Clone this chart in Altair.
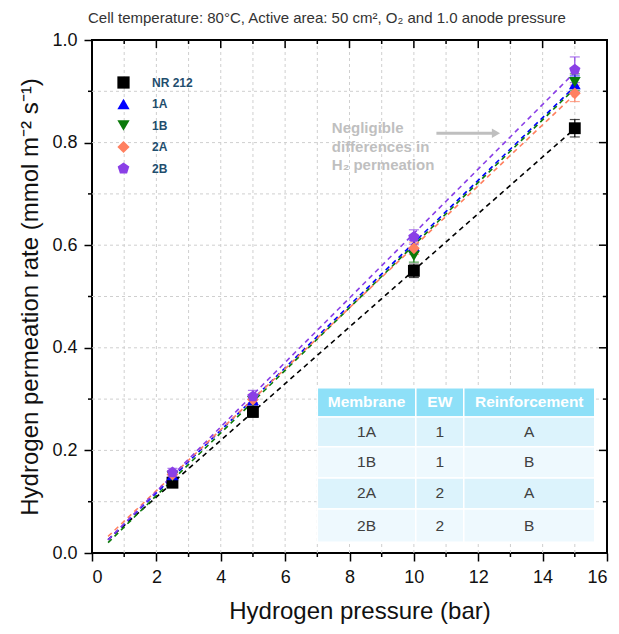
import altair as alt
import pandas as pd

# ---------------- data ----------------
series = ["NR 212", "1A", "1B", "2A", "2B"]
pressure = [2.5, 5, 10, 15]
rate_nr212 = [0.137, 0.275, 0.550, 0.828]
rate_1a = [0.152, 0.298, 0.598, 0.914]
rate_1b = [0.150, 0.296, 0.579, 0.918]
rate_2a = [0.153, 0.299, 0.594, 0.896]
rate_2b = [0.157, 0.305, 0.616, 0.942]
err_nr212 = [0.008, 0.010, 0.013, 0.017]
err_1a = [0.007, 0.010, 0.012, 0.016]
err_1b = [0.007, 0.010, 0.012, 0.016]
err_2a = [0.007, 0.010, 0.012, 0.016]
err_2b = [0.008, 0.012, 0.014, 0.025]

colors = ["#000000", "#0000FF", "#0A7A0A", "#FF8060", "#8A3FE6"]
pentagon = "M0,-1L0.951,-0.309L0.588,0.809L-0.588,0.809L-0.951,-0.309Z"
shapes = ["square", "triangle-up", "triangle-down", "diamond", pentagon]

fit_extent = [0.5, 15]

x_labels = [0, 2, 4, 6, 8, 10, 12, 14, 16]
y_labels = [0, 0.2, 0.4, 0.6, 0.8, 1.0]
x_minor = [1, 3, 5, 7, 9, 11, 13, 15]
x_major_inner = [2, 4, 6, 8, 10, 12, 14]
y_minor = [0.1, 0.3, 0.5, 0.7, 0.9]
y_major_inner = [0.2, 0.4, 0.6, 0.8]

table_header = ["Membrane", "EW", "Reinforcement"]
table_membrane = ["1A", "1B", "2A", "2B"]
table_ew = ["1", "1", "2", "2"]
table_reinf = ["A", "B", "A", "B"]

title_text = "Cell temperature: 80\u00b0C, Active area: 50 cm\u00b2, O\u2082 and 1.0 anode pressure"
x_title = "Hydrogen pressure (bar)"
y_title = "Hydrogen permeation rate (mmol m\u207b\u00b2 s\u207b\u00b9)"
note_lines = ["Negligible", "differences in", "H\u2082 permeation"]

# ---------------- layout ----------------
W, H = 515, 513
FONT = "Liberation Sans"
col_edges = [7.0, 10.06, 11.55, 15.62]
row_edges = [0.322, 0.265, 0.207, 0.146, 0.086, 0.021]
row_fills = ["#8EE0F8", "#DCF3FC", "#EEF9FE", "#DCF3FC", "#EEF9FE"]
note_x, note_y = 7.45, 0.828
arrow_x0, arrow_x1, arrow_y = 10.7, 12.75, 0.818

rates = [rate_nr212, rate_1a, rate_1b, rate_2a, rate_2b]
errs = [err_nr212, err_1a, err_1b, err_2a, err_2b]
rows = []
for s, r, e in zip(series, rates, errs):
    for p, v, d in zip(pressure, r, e):
        rows.append({"series": s, "pressure": p, "rate": v, "lo": v - d, "hi": v + d})
df = pd.DataFrame(rows)

xs = alt.Scale(domain=[0, 16], nice=False, zero=False)
ys = alt.Scale(domain=[0, 1], nice=False, zero=False)
col_scale = alt.Scale(domain=series, range=colors)
shape_scale = alt.Scale(domain=series, range=shapes)

XAX = alt.Axis(values=x_labels, format="d", grid=False, domain=False, tickSize=8, tickWidth=1.5,
               tickColor="black", labelFontSize=18, labelFont=FONT, labelColor="#111",
               labelPadding=7, titleFontSize=24, titleFont=FONT, titleFontWeight="normal",
               titleColor="#111", titlePadding=13, titleX=W / 2 + 10)
YAX = alt.Axis(values=y_labels, format=".1f", grid=False, domain=False, tickSize=8, tickWidth=1.5,
               tickColor="black", labelFontSize=18, labelFont=FONT, labelColor="#111",
               labelPadding=7, titleFontSize=24, titleFont=FONT, titleFontWeight="normal",
               titleColor="#111", titlePadding=9)
LEG = alt.Legend(orient="none", legendX=25, legendY=36, title=None)


def X(field):
    return alt.X(field, scale=xs, axis=XAX, title=x_title)


def Y(field):
    return alt.Y(field, scale=ys, axis=YAX, title=y_title)


def C():
    return alt.Color("series:N", scale=col_scale, legend=LEG, title=None)


# grid
grid_x = alt.Chart(pd.DataFrame({"v": x_minor + x_major_inner})).mark_rule(
    color="#CFCFCF", strokeDash=[3, 3], strokeWidth=1
).encode(x=X("v:Q"), y=alt.value(0), y2=alt.value(H))
grid_y = alt.Chart(pd.DataFrame({"v": y_minor + y_major_inner})).mark_rule(
    color="#CFCFCF", strokeDash=[3, 3], strokeWidth=1
).encode(y=Y("v:Q"), x=alt.value(0), x2=alt.value(W))


# minor / inward ticks
def ticks_y(vals, xa, xb):
    return alt.Chart(pd.DataFrame({"v": vals})).mark_rule(color="black", strokeWidth=1.5).encode(
        y=Y("v:Q"), x=alt.value(xa), x2=alt.value(xb))


def ticks_x(vals, ya, yb):
    return alt.Chart(pd.DataFrame({"v": vals})).mark_rule(color="black", strokeWidth=1.5).encode(
        x=X("v:Q"), y=alt.value(ya), y2=alt.value(yb))


tick_layers = [
    ticks_y(y_minor, -4, 0),
    ticks_y(y_minor, W - 4, W),
    ticks_y(y_major_inner, W - 8, W),
    ticks_x(x_minor, H, H + 4),
    ticks_x(x_minor, 0, 4),
    ticks_x(x_major_inner, 0, 8),
]

# table
cells = []
body = list(zip(table_membrane, table_ew, table_reinf))
all_rows = [tuple(table_header)] + body
for ri, row in enumerate(all_rows):
    for ci, txt in enumerate(row):
        cells.append({
            "x0": col_edges[ci], "x1": col_edges[ci + 1],
            "y0": row_edges[ri], "y1": row_edges[ri + 1],
            "xm": (col_edges[ci] + col_edges[ci + 1]) / 2,
            "ym": (row_edges[ri] + row_edges[ri + 1]) / 2,
            "fill": row_fills[ri], "text": txt, "header": ri == 0,
        })
cells_df = pd.DataFrame(cells)
table_rect = alt.Chart(cells_df).mark_rect(stroke="white", strokeWidth=1.5).encode(
    x=X("x0:Q"), x2="x1", y=Y("y0:Q"), y2="y1",
    fill=alt.Fill("fill:N", scale=None))
table_head_text = alt.Chart(cells_df[cells_df.header]).mark_text(
    font=FONT, fontSize=15.5, fontWeight="bold", color="white").encode(
    x=X("xm:Q"), y=Y("ym:Q"), text="text:N")
table_body_text = alt.Chart(cells_df[~cells_df.header]).mark_text(
    font=FONT, fontSize=15.5, color="#404040").encode(
    x=X("xm:Q"), y=Y("ym:Q"), text="text:N")

# fits
fits = alt.Chart(df).transform_regression(
    "pressure", "rate", groupby=["series"], extent=fit_extent
).mark_line(strokeDash=[5, 4], strokeWidth=1.6).encode(
    x=X("pressure:Q"), y=Y("rate:Q"), color=C(), detail="series:N")

# error bars
ebar = alt.Chart(df).mark_rule(strokeWidth=1.2).encode(
    x=X("pressure:Q"), y=Y("lo:Q"), y2="hi:Q", color=C())
cap_lo = alt.Chart(df).mark_tick(orient="horizontal", size=10, thickness=1.2).encode(
    x=X("pressure:Q"), y=Y("lo:Q"), color=C())
cap_hi = alt.Chart(df).mark_tick(orient="horizontal", size=10, thickness=1.2).encode(
    x=X("pressure:Q"), y=Y("hi:Q"), color=C())

# points
points = alt.Chart(df).mark_point(filled=True, size=140, opacity=1).encode(
    x=X("pressure:Q"), y=Y("rate:Q"), color=C(),
    shape=alt.Shape("series:N", scale=shape_scale, title=None, legend=LEG),
)

# annotation
note = alt.Chart(pd.DataFrame({"x": [note_x], "y": [note_y], "t": [note_lines]})).mark_text(
    font=FONT, fontSize=15, fontWeight="bold", color="#BFBFBF", align="left",
    baseline="middle", lineHeight=18.5).encode(x=X("x:Q"), y=Y("y:Q"), text="t")
arrow_line = alt.Chart(pd.DataFrame({"x": [arrow_x0], "x2": [arrow_x1 - 0.25], "y": [arrow_y]})).mark_rule(
    color="#BFBFBF", strokeWidth=3).encode(x=X("x:Q"), x2="x2", y=Y("y:Q"))
arrow_head = alt.Chart(pd.DataFrame({"x": [arrow_x1 - 0.2], "y": [arrow_y]})).mark_point(
    shape="triangle-right", filled=True, color="#BFBFBF", size=90, opacity=1).encode(
    x=X("x:Q"), y=Y("y:Q"))

chart = alt.layer(
    grid_x, grid_y, table_rect, table_head_text, table_body_text,
    fits, ebar, cap_lo, cap_hi, points, note, arrow_line, arrow_head, *tick_layers
).properties(
    width=W, height=H,
    title=alt.TitleParams(title_text, anchor="start", frame="group", fontSize=15, font=FONT,
                          fontWeight="normal", color="#333333", offset=5, dx=-4),
    padding={"left": 92, "top": 40, "right": 12, "bottom": 81},
    autosize=alt.AutoSizeParams(type="none"),
).configure_view(stroke="black", strokeWidth=2).configure_legend(
    labelFont=FONT, labelFontSize=12, labelFontWeight="bold", labelColor="#1F4E6E",
    symbolSize=150, rowPadding=8.5, labelOffset=22, symbolStrokeWidth=0, symbolOpacity=1,
    padding=0
)

chart.save("out.html", embed_options={"renderer": "svg", "actions": False})
